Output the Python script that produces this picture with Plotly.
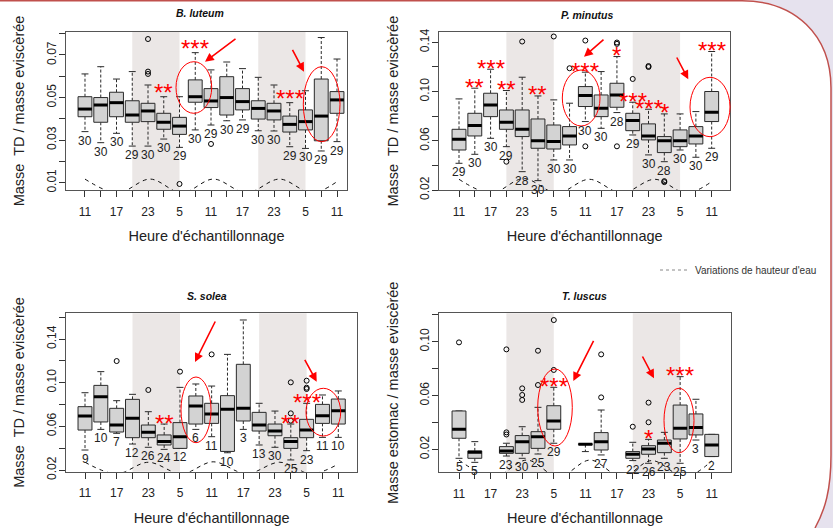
import plotly.graph_objects as go

W, H = 833, 528
FONT = "Liberation Sans, Arial, Helvetica, sans-serif"

# ---------------- shared categories ----------------
hours = [11, 14, 17, 20, 23, 2, 5, 8, 11, 14, 17, 20, 23, 2, 5, 8, 11]
positions = list(range(1, len(hours) + 1))
tick_text = [str(h) if i % 2 == 0 else "" for i, h in enumerate(hours)]
night_spans = [(4, 7), (12, 15)]
legend_name = "Variations de hauteur d'eau"
xtitle = "Heure d'échantillonnage"

# ---------------- B. luteum ----------------
lut_title = "B. luteum"
lut_ytitle = "Masse  TD / masse eviscèrée"
lut_low = [0.0340, 0.0288, 0.0332, 0.0272, 0.0272, 0.0305, 0.0266, 0.0348, 0.0371, 0.0391, 0.0395, 0.0344, 0.0343, 0.0269, 0.0261, 0.0249, 0.0293]
lut_q1 = [0.0410, 0.0384, 0.0410, 0.0384, 0.0387, 0.0351, 0.0327, 0.0478, 0.0453, 0.0418, 0.0442, 0.0399, 0.0395, 0.0338, 0.0348, 0.0297, 0.0426]
lut_med = [0.0446, 0.0465, 0.0476, 0.0418, 0.0437, 0.0384, 0.0366, 0.0504, 0.0484, 0.0500, 0.0481, 0.0449, 0.0437, 0.0374, 0.0387, 0.0413, 0.0489]
lut_q3 = [0.0504, 0.0500, 0.0525, 0.0485, 0.0473, 0.0426, 0.0407, 0.0583, 0.0542, 0.0598, 0.0542, 0.0485, 0.0473, 0.0413, 0.0442, 0.0587, 0.0528]
lut_high = [0.0611, 0.0645, 0.0587, 0.0622, 0.0559, 0.0504, 0.0504, 0.0711, 0.0630, 0.0667, 0.0636, 0.0595, 0.0559, 0.0476, 0.0532, 0.0782, 0.0681]
lut_n = [30, 30, 30, 29, 30, 30, 29, 30, 29, 30, 29, 30, 30, 29, 30, 29, 29]
lut_out_x = [5, 5, 5, 7, 9]
lut_out_y = [0.0775, 0.0622, 0.0611, 0.0094, 0.0282]
lut_stars = ["", "", "", "", "", "**", "", "***", "", "", "", "", "", "***", "", "", ""]
lut_tide_x = [1, 3.07, 5.13, 7.15, 9.15, 11.25, 13.35, 15.4, 17]
lut_tide_y = [0.0117, 0.0052, 0.0117, 0.0052, 0.0117, 0.0052, 0.0117, 0.0052, 0.0105]
lut_yticks = [0.01, 0.02, 0.03, 0.04, 0.05, 0.06, 0.07, 0.08]
lut_ytick_text = ["0.01", "", "0.03", "", "0.05", "", "0.07", ""]

# ---------------- P. minutus ----------------
min_title = "P. minutus"
min_ytitle = "Masse  TD / masse eviscèrée"
min_low = [0.0417, 0.0490, 0.0620, 0.0552, 0.0349, 0.0276, 0.0444, 0.0444, 0.0756, 0.0701, 0.0829, 0.0647, 0.0485, 0.0430, 0.0525, 0.0466, 0.0539]
min_q1 = [0.0525, 0.0639, 0.0796, 0.0693, 0.0634, 0.0539, 0.0533, 0.0566, 0.0878, 0.0796, 0.0872, 0.0682, 0.0607, 0.0504, 0.0552, 0.0574, 0.0756]
min_med = [0.0612, 0.0723, 0.0891, 0.0750, 0.0693, 0.0601, 0.0593, 0.0639, 0.0967, 0.0864, 0.0972, 0.0764, 0.0639, 0.0601, 0.0601, 0.0639, 0.0831]
min_q3 = [0.0693, 0.0823, 0.0986, 0.0850, 0.0850, 0.0777, 0.0728, 0.0715, 0.1040, 0.0972, 0.1067, 0.0823, 0.0737, 0.0634, 0.0688, 0.0715, 0.1000]
min_high = [0.0940, 0.1027, 0.1181, 0.1008, 0.1116, 0.0964, 0.0932, 0.0905, 0.1157, 0.1162, 0.1284, 0.0913, 0.0856, 0.0818, 0.0818, 0.0837, 0.1325]
min_n = [29, 30, 30, 29, 28, 30, 30, 30, 30, 30, 28, 29, 30, 28, 30, 30, 29]
min_out_x = [4, 5, 7, 8, 9, 9, 11, 11, 11, 12, 13, 13, 14, 14]
min_out_y = [0.0430, 0.1406, 0.1447, 0.1189, 0.1414, 0.0555, 0.1398, 0.1387, 0.0555, 0.1102, 0.1207, 0.1199, 0.0272, 0.0264]
min_stars = ["", "**", "***", "**", "", "**", "", "", "***", "", "*", "***", "***", "*", "", "", "***"]
min_tide_x = [1, 3.05, 5.1, 7.2, 9.25, 11.3, 13.4, 15.4, 17]
min_tide_y = [0.0287, 0.0175, 0.0293, 0.0175, 0.0287, 0.0175, 0.0287, 0.0175, 0.0268]
min_yticks = [0.02, 0.04, 0.06, 0.08, 0.10, 0.12, 0.14]
min_ytick_text = ["0.02", "", "0.06", "", "0.10", "", "0.14"]

# ---------------- S. solea ----------------
sol_title = "S. solea"
sol_ytitle = "Masse  TD / masse eviscèrée"
sol_low = [0.0383, 0.0572, 0.0536, 0.0438, 0.0408, 0.0389, 0.0398, 0.0572, 0.0505, 0.0358, 0.0572, 0.0429, 0.0408, 0.0292, 0.0377, 0.0499, 0.0499]
sol_q1 = [0.0566, 0.0640, 0.0548, 0.0496, 0.0496, 0.0429, 0.0398, 0.0621, 0.0627, 0.0370, 0.0649, 0.0557, 0.0514, 0.0398, 0.0496, 0.0627, 0.0621]
sol_med = [0.0695, 0.0872, 0.0612, 0.0673, 0.0545, 0.0460, 0.0505, 0.0786, 0.0713, 0.0756, 0.0765, 0.0612, 0.0557, 0.0460, 0.0566, 0.0698, 0.0743]
sol_q3 = [0.0780, 0.0975, 0.0765, 0.0847, 0.0612, 0.0521, 0.0634, 0.0878, 0.0811, 0.0881, 0.1168, 0.0728, 0.0621, 0.0496, 0.0664, 0.0801, 0.0850]
sol_high = [0.0908, 0.1101, 0.0835, 0.0893, 0.0734, 0.0621, 0.0957, 0.0988, 0.0969, 0.1259, 0.1574, 0.0811, 0.0740, 0.0621, 0.0811, 0.0887, 0.0924]
sol_n = [9, 10, 7, 12, 26, 24, 12, 6, 11, 10, 3, 13, 30, 25, 23, 11, 10]
sol_out_x = [3, 5, 7, 9, 14, 14, 14, 15, 15, 15]
sol_out_y = [0.1198, 0.0933, 0.1101, 0.1259, 0.1003, 0.0719, 0.0652, 0.1018, 0.0954, 0.0942]
sol_stars = ["", "", "", "", "", "**", "", "", "", "", "", "", "", "**", "***", "", ""]
sol_tide_x = [1, 3.0, 5.0, 7.1, 9.1, 11.2, 13.3, 15.3, 17]
sol_tide_y = [0.0271, 0.0165, 0.0271, 0.0165, 0.0275, 0.0165, 0.0271, 0.0165, 0.0255]
sol_yticks = [0.02, 0.04, 0.06, 0.08, 0.10, 0.12, 0.14, 0.16]
sol_ytick_text = ["0.02", "", "0.06", "", "0.10", "", "0.14", ""]

# ---------------- T. luscus ----------------
lus_title = "T. luscus"
lus_ytitle = "Masse estomac / masse eviscèrée"
lus_low = [0.0133, 0.0103, None, 0.0150, 0.0133, 0.0165, 0.0245, None, 0.0183, 0.0158, None, 0.0116, 0.0096, 0.0133, 0.0096, 0.0269, 0.0146]
lus_q1 = [0.0282, 0.0133, None, 0.0170, 0.0170, 0.0207, 0.0349, None, 0.0235, 0.0195, None, 0.0133, 0.0163, 0.0175, 0.0277, 0.0307, 0.0146]
lus_med = [0.0349, 0.0178, None, 0.0188, 0.0257, 0.0294, 0.0411, None, 0.0238, 0.0257, None, 0.0163, 0.0202, 0.0245, 0.0356, 0.0363, 0.0232]
lus_q3 = [0.0485, 0.0188, None, 0.0220, 0.0302, 0.0331, 0.0524, None, 0.0241, 0.0324, None, 0.0183, 0.0227, 0.0269, 0.0529, 0.0463, 0.0311]
lus_high = [0.0485, 0.0257, None, 0.0245, 0.0368, 0.0512, 0.0661, None, 0.0241, 0.0492, None, 0.0252, 0.0274, 0.0326, 0.0740, 0.0572, 0.0311]
lus_n = [5, 5, None, 23, 30, 25, 29, None, None, 27, None, 22, 26, 23, 25, 3, 2]
lus_out_x = [1, 4, 4, 4, 5, 5, 5, 6, 6, 7, 7, 10, 10, 12, 13, 13]
lus_out_y = [0.0995, 0.0943, 0.0326, 0.0310, 0.0653, 0.0604, 0.0567, 0.0933, 0.0678, 0.1161, 0.0790, 0.0906, 0.0586, 0.0368, 0.0547, 0.0401]
lus_stars = ["", "", "", "", "", "", "***", "", "", "", "", "", "*", "", "***", "", ""]
lus_tide_x = [1, 3.2, 5.3, 7.3, 9.3, 11.3, 13.2, 15.3, 17]
lus_tide_y = [0.0120, -0.0005, 0.0120, -0.0005, 0.0120, -0.0005, 0.0116, -0.0005, 0.0114]
lus_yticks = [0.02, 0.04, 0.06, 0.08, 0.10, 0.12]
lus_ytick_text = ["0.02", "", "0.06", "", "0.10", ""]

panels = [
    dict(title=lut_title, ytitle=lut_ytitle, low=lut_low, q1=lut_q1, med=lut_med, q3=lut_q3, high=lut_high,
         n=lut_n, ox=lut_out_x, oy=lut_out_y, stars=lut_stars, tx=lut_tide_x, ty=lut_tide_y,
         yt=lut_yticks, ytt=lut_ytick_text),
    dict(title=min_title, ytitle=min_ytitle, low=min_low, q1=min_q1, med=min_med, q3=min_q3, high=min_high,
         n=min_n, ox=min_out_x, oy=min_out_y, stars=min_stars, tx=min_tide_x, ty=min_tide_y,
         yt=min_yticks, ytt=min_ytick_text),
    dict(title=sol_title, ytitle=sol_ytitle, low=sol_low, q1=sol_q1, med=sol_med, q3=sol_q3, high=sol_high,
         n=sol_n, ox=sol_out_x, oy=sol_out_y, stars=sol_stars, tx=sol_tide_x, ty=sol_tide_y,
         yt=sol_yticks, ytt=sol_ytick_text),
    dict(title=lus_title, ytitle=lus_ytitle, low=lus_low, q1=lus_q1, med=lus_med, q3=lus_q3, high=lus_high,
         n=lus_n, ox=lus_out_x, oy=lus_out_y, stars=lus_stars, tx=lus_tide_x, ty=lus_tide_y,
         yt=lus_yticks, ytt=lus_ytick_text),
]

# ---------------- layout geometry (pixels) ----------------
geoms = [
    dict(box=(66, 32, 347, 190), xr=(-0.206, 17.635), yr=(0.00657, 0.0808), title_xy=(200, 13), star_shift=4),
    dict(box=(439.3, 32.3, 730, 190), xr=(-0.248, 18.16), yr=(0.02, 0.1481), title_xy=(587, 15), star_shift=1),
    dict(box=(66, 313.3, 357.3, 471.7), xr=(-0.2, 18.2), yr=(0.01844, 0.16354), title_xy=(207, 296), star_shift=1),
    dict(box=(439.3, 313.3, 730.7, 472.3), xr=(-0.248, 18.2), yr=(0.0029, 0.12112), title_xy=(584, 296), star_shift=1),
]

HW = 0.44   # half box width
SW = 0.22   # half staple width
LINE = "#2a2a2a"


def px(x):
    return x / W


def py(y):
    return 1 - y / H


fig = go.Figure()
annotations = []
shapes = []
layout_axes = {}

for k, (P, G) in enumerate(zip(panels, geoms), start=1):
    sfx = "" if k == 1 else str(k)
    xa, ya = "x" + sfx, "y" + sfx
    bx, by, mx, my, wx, wy, sx, sy = [], [], [], [], [], [], [], []
    for i, p in enumerate(positions):
        if P["med"][i] is None:
            continue
        lo, q1, md, q3, hi = P["low"][i], P["q1"][i], P["med"][i], P["q3"][i], P["high"][i]
        bx += [p - HW, p + HW, p + HW, p - HW, p - HW, None]
        by += [q1, q1, q3, q3, q1, None]
        mx += [p - HW, p + HW, None]
        my += [md, md, None]
        wx += [p, p, None, p, p, None]
        wy += [q3, hi, None, q1, lo, None]
        sx += [p - SW, p + SW, None, p - SW, p + SW, None]
        sy += [hi, hi, None, lo, lo, None]
        if P["n"][i] is not None:
            annotations.append(dict(x=p, y=lo, xref=xa, yref=ya, text=str(P["n"][i]), showarrow=False,
                                    yanchor="top", xanchor="center", yshift=0,
                                    font=dict(size=12, color="#222", family=FONT)))
        if P["stars"][i]:
            annotations.append(dict(x=p, y=hi, xref=xa, yref=ya, text=P["stars"][i], showarrow=False,
                                    yanchor="middle", xanchor="center", yshift=G["star_shift"],
                                    font=dict(size=24, color="#ff0000", family=FONT)))

    fig.add_trace(go.Scatter(x=wx, y=wy, mode="lines", xaxis=xa, yaxis=ya, showlegend=False, hoverinfo="skip",
                             line=dict(color=LINE, width=1, dash="3px,2px")))
    fig.add_trace(go.Scatter(x=sx, y=sy, mode="lines", xaxis=xa, yaxis=ya, showlegend=False, hoverinfo="skip",
                             line=dict(color=LINE, width=1)))
    fig.add_trace(go.Scatter(x=bx, y=by, mode="lines", fill="toself", fillcolor="#d3d3d3", xaxis=xa, yaxis=ya,
                             showlegend=False, hoverinfo="skip", line=dict(color=LINE, width=1)))
    fig.add_trace(go.Scatter(x=mx, y=my, mode="lines", xaxis=xa, yaxis=ya, showlegend=False, hoverinfo="skip",
                             line=dict(color="#000", width=3)))
    fig.add_trace(go.Scatter(x=P["ox"], y=P["oy"], mode="markers", xaxis=xa, yaxis=ya, showlegend=False,
                             marker=dict(symbol="circle-open", size=5, color="#000", line=dict(width=1))))
    fig.add_trace(go.Scatter(x=P["tx"], y=P["ty"], mode="lines", xaxis=xa, yaxis=ya, showlegend=False,
                             line=dict(color="#111", width=1, dash="4px,4px", shape="spline", smoothing=1.0)))

    x0, y0, x1, y1 = G["box"]
    layout_axes["xaxis" + sfx] = dict(
        domain=[px(x0), px(x1)], range=list(G["xr"]), anchor=ya, tickmode="array", tickvals=positions,
        ticktext=tick_text, ticks="outside", ticklen=6, tickwidth=1, tickcolor="#333",
        showline=True, linecolor="#555", linewidth=1.3, mirror=True, showgrid=False, zeroline=False,
        tickfont=dict(size=12, color="#222", family=FONT), ticklabelstandoff=4, automargin=False,
        title=dict(text=xtitle, font=dict(size=14.5, color="#222", family=FONT), standoff=13), fixedrange=True)
    layout_axes["yaxis" + sfx] = dict(
        domain=[py(y1), py(y0)], range=list(G["yr"]), anchor=xa, tickmode="array", tickvals=P["yt"],
        ticktext=P["ytt"], ticks="outside", ticklen=6, tickwidth=1, tickcolor="#333", tickangle=-90,
        showline=True, linecolor="#555", linewidth=1.3, mirror=True, showgrid=False, zeroline=False,
        tickfont=dict(size=12, color="#222", family=FONT), ticklabelstandoff=-2, automargin=False,
        title=dict(text=P["ytitle"], font=dict(size=14.5, color="#222", family=FONT), standoff=16), fixedrange=True)

    for a, b in night_spans:
        shapes.append(dict(type="rect", xref=xa, yref=ya + " domain", x0=a, x1=b, y0=0, y1=1,
                           fillcolor="#ebe7e6", line=dict(width=0), layer="below"))

    tx_, ty_ = G["title_xy"]
    annotations.append(dict(x=px(tx_), y=py(ty_), xref="paper", yref="paper", text="<b><i>%s</i></b>" % P["title"],
                            showarrow=False, xanchor="center", yanchor="middle",
                            font=dict(size=10.5, color="#111", family=FONT)))

# legend-only entry for the tide line
fig.add_trace(go.Scatter(x=[None], y=[None], mode="lines", xaxis="x2", yaxis="y2", name=legend_name,
                         line=dict(color="#888", width=1, dash="3px,3px"), showlegend=True))

# red emphasis ellipses and arrows (pixel positions)
ellipses = [(176, 61.7, 211.7, 113.3), (303.3, 66.7, 340, 141.7),
            (562.3, 70, 600, 126), (690, 77.3, 730, 136.7),
            (181, 377, 211, 442.7), (306, 388.3, 340.7, 436),
            (537.7, 369, 572.3, 446), (664, 388.3, 694, 452.7)]
for (ex0, ey0, ex1, ey1) in ellipses:
    shapes.append(dict(type="circle", xref="paper", yref="paper", x0=px(ex0), x1=px(ex1), y0=py(ey1), y1=py(ey0),
                       line=dict(color="#ff0000", width=1), layer="above"))

arrows = [((237, 37.7), (205, 61.7)), ((291.7, 48.3), (304, 71.7)),
          ((605, 38.3), (584, 56.7)), ((676, 56), (688.3, 79.3)),
          ((216, 320), (195, 362)), ((304, 358.3), (316.7, 381.7)),
          ((594.3, 339.3), (573.3, 381)), ((641.7, 355), (654, 378.3))]
for (tail, head) in arrows:
    annotations.append(dict(x=px(head[0]), y=py(head[1]), xref="paper", yref="paper", text="",
                            showarrow=True, ax=tail[0] - head[0], ay=tail[1] - head[1],
                            arrowhead=2, arrowsize=1.1, arrowwidth=1.6, arrowcolor="#ff0000", standoff=0))


# slide decoration: lavender corners and red rounded border
def path(points_cmds):
    out = []
    for cmd, pts in points_cmds:
        coords = " ".join("%.5f,%.5f" % (px(x), py(y)) for x, y in pts)
        out.append(cmd + " " + coords if pts else cmd)
    return " ".join(out)


lav = "#e6e2ee"
shapes.append(dict(type="path", xref="paper", yref="paper", layer="above", fillcolor=lav, line=dict(width=0),
                   path=path([("M", [(742, 0)]), ("C", [(795, 0), (831, 35), (831, 88)]),
                              ("L", [(831, 455)]), ("C", [(831, 490), (825, 510), (815, 528)]),
                              ("L", [(833, 528)]), ("L", [(833, 0)]), ("Z", [])])))
shapes.append(dict(type="path", xref="paper", yref="paper", layer="above", line=dict(color="#c0504d", width=1.5),
                   path=path([("M", [(0, 0.8)]), ("L", [(742, 0.8)]), ("C", [(795, 0.8), (831, 35), (831, 88)]),
                              ("L", [(831, 455)]), ("C", [(831, 490), (825, 510), (815, 528)])])))

fig.update_layout(
    width=W, height=H, margin=dict(l=0, r=0, t=0, b=0), paper_bgcolor="white", plot_bgcolor="white",
    font=dict(family=FONT, color="#222"),
    showlegend=True,
    legend=dict(x=px(655), y=py(270), xanchor="left", yanchor="middle", bgcolor="rgba(0,0,0,0)",
                font=dict(size=10, color="#333", family=FONT), itemwidth=30),
    annotations=annotations, shapes=shapes, **layout_axes)

fig.write_html("out.html", config={"displayModeBar": False},
               post_script="document.body.style.margin='0';document.body.style.overflow='hidden';")
